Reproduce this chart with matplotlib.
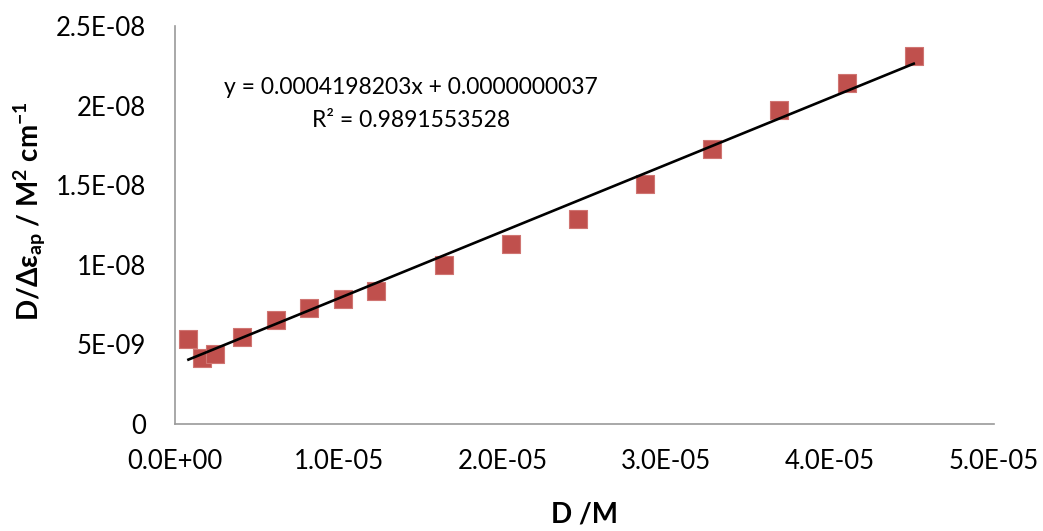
import matplotlib
matplotlib.use('Agg')
import matplotlib.pyplot as plt
import numpy as np

# data
conc = [0.82e-6, 1.64e-6, 2.46e-6, 4.1e-6, 6.15e-6, 8.2e-6, 10.25e-6, 12.3e-6,
        16.4e-6, 20.5e-6, 24.6e-6, 28.7e-6, 32.8e-6, 36.9e-6, 41.0e-6, 45.1e-6]
ratio = [5.34e-9, 4.15e-9, 4.40e-9, 5.46e-9, 6.53e-9, 7.29e-9, 7.85e-9, 8.35e-9,
         9.99e-9, 11.31e-9, 12.88e-9, 15.08e-9, 17.27e-9, 19.72e-9, 21.42e-9, 23.12e-9]
slope = 0.0004198203
intercept = 0.0000000037
r2 = 0.9891553528

xticks = [0, 1e-5, 2e-5, 3e-5, 4e-5, 5e-5]
xtick_labels = ['0.0E+00', '1.0E-05', '2.0E-05', '3.0E-05', '4.0E-05', '5.0E-05']
yticks = [0, 5e-9, 1e-8, 1.5e-8, 2e-8, 2.5e-8]
ytick_labels = ['0', '5E-09', '1E-08', '1.5E-08', '2E-08', '2.5E-08']

plt.rcParams['font.family'] = ['Lato', 'DejaVu Sans']
plt.rcParams['mathtext.fontset'] = 'custom'
plt.rcParams['mathtext.bf'] = 'Lato:bold'
plt.rcParams['mathtext.rm'] = 'Lato'

fig = plt.figure(figsize=(10.43, 5.31), dpi=100)
ax = fig.add_axes([175 / 1043, 107 / 531, 819 / 1043, 398 / 531])

ax.scatter(conc, ratio, marker='s', s=150, color='#C0504D', edgecolors='#D07572',
           linewidths=0.8, zorder=2)

xfit = np.array([min(conc), max(conc)])
ax.plot(xfit, slope * xfit + intercept, color='black', lw=1.9, zorder=3)

ax.set_xlim(0, 5e-5)
ax.set_ylim(0, 2.5e-8)
ax.set_xticks(xticks)
ax.set_xticklabels(xtick_labels)
ax.set_yticks(yticks)
ax.set_yticklabels(ytick_labels)
ax.tick_params(axis='both', length=0, labelsize=18.5, colors='black')
ax.tick_params(axis='y', pad=21)
ax.tick_params(axis='x', pad=18)

for side in ['top', 'right']:
    ax.spines[side].set_visible(False)
for side in ['left', 'bottom']:
    ax.spines[side].set_color('#9A9A9A')
    ax.spines[side].set_linewidth(1.2)

ax.set_xlabel('D /M', fontsize=20, fontweight='bold')
ax.xaxis.set_label_coords(0.5, -0.195)
ax.set_ylabel(r'D/Δε$\mathbf{_{ap}}$ / M$\mathbf{^{2}}$ cm$\mathbf{^{-1}}$',
              fontsize=20, fontweight='bold', va='center')
ax.yaxis.set_label_coords(-0.177, 0.535)

eq = f'y = {slope:.10f}x + {intercept:.10f}'
fig.text(411 / 1043, 1 - 88 / 531, eq, ha='center', va='center', fontsize=16.5)
fig.text(411 / 1043, 1 - 121 / 531, f'R² = {r2}', ha='center', va='center', fontsize=16.5)

fig.savefig('out.png', dpi=100)
